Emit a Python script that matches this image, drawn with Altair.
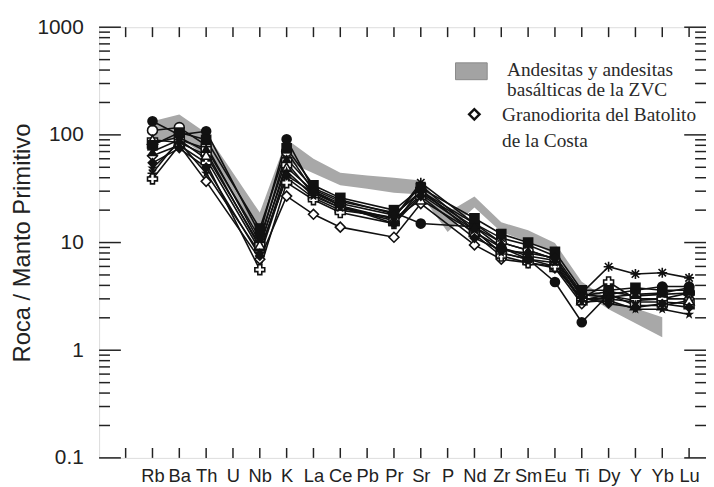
import altair as alt
import pandas as pd

# ---------------- data ----------------
elements = ["Rb", "Ba", "Th", "U", "Nb", "K", "La", "Ce", "Pb", "Pr", "Sr",
            "P", "Nd", "Zr", "Sm", "Eu", "Ti", "Dy", "Y", "Yb", "Lu"]

sample_elements = ["Rb", "Ba", "Th", "Nb", "K", "La", "Ce", "Pr", "Sr", "Nd",
                   "Zr", "Sm", "Eu", "Ti", "Dy", "Y", "Yb", "Lu"]

s_filled_circle = [134, 100, 108, 12.0, 91, 31, 24, 19, 15.0, 14.0, 9.0, 7.0, 4.3, 1.82, 3.3, 3.6, 3.9, 3.9]
s_open_circle   = [110, 117, 80, 10.0, 70, 30, 23, 18, 30, 15.0, 10.0, 8.5, 7.0, 3.2, 3.5, 3.2, 3.3, 3.4]
s_open_square   = [84, 95, 70, 9.0, 55, 28, 21, 16, 28, 13.0, 8.0, 7.0, 6.0, 3.0, 3.0, 2.8, 2.8, 2.7]
s_open_diamond  = [64, 80, 37, 7.0, 27, 18.3, 13.9, 11.2, 23, 9.5, 7.0, 6.5, 5.8, 2.7, 3.2, 2.9, 3.0, 3.0]
s_star          = [49, 85, 44, 8.0, 46, 27, 21, 17, 34, 13.0, 8.0, 7.0, 6.5, 2.8, 2.9, 2.4, 2.4, 2.15]
s_asterisk      = [44, 90, 60, 8.5, 40, 26, 20, 17, 36, 15.0, 11.0, 9.5, 7.5, 3.4, 5.96, 5.1, 5.25, 4.7]
s_open_cross    = [39, 80, 55, 5.6, 36, 25, 19, 15, 31, 12.0, 7.5, 6.5, 6.0, 3.0, 4.3, 3.0, 3.0, 3.4]
s_filled_square = [80, 105, 90, 13.5, 75, 34, 26, 20, 32, 16.8, 12.0, 10.0, 8.2, 3.6, 3.6, 3.8, 3.6, 3.6]
s_filled_tri    = [70, 90, 75, 11.0, 60, 32, 25, 18.5, 29, 14.0, 10.0, 8.5, 7.0, 3.3, 3.1, 3.3, 3.4, 3.8]
s_open_tri      = [90, 85, 65, 9.5, 50, 30, 22, 16.5, 25, 12.5, 9.0, 7.5, 6.8, 2.9, 3.3, 2.6, 2.6, 2.9]
s_filled_diam   = [55, 75, 50, 7.5, 42, 29, 22, 15, 27, 11.0, 8.5, 8.0, 7.2, 3.1, 2.7, 2.5, 2.7, 2.5]

band_elements = ["Rb", "Ba", "Th", "Nb", "K", "La", "Ce", "Pb", "Pr", "Sr", "P",
                 "Nd", "Zr", "Sm", "Eu", "Ti", "Dy", "Y", "Yb"]
band_upper = [134, 155, 104, 19, 91, 60, 44.5, 42, 40, 37.6, 19, 26.8, 15.4, 13, 9.9, 4.33, 2.96, 2.45, 2.02]
band_lower = [88, 93, 64, 11.7, 57, 44, 34, 31.6, 29, 28, 12.5, 21.2, 12.5, 10.1, 7.8, 3.5, 2.4, 1.78, 1.32]

y_major = [0.1, 1, 10, 100, 1000]
y_minor = [d * k for d in [0.1, 1, 10, 100] for k in range(2, 10)]
x_tick_positions = list(range(0, 22))

legend_band_lines = ["Andesitas y andesitas", "basálticas de la ZVC"]
legend_gd_lines = ["Granodiorita del Batolito", "de la Costa"]

# ---------------- tables ----------------
STAR = ("M0,-1L0.235,-0.324L0.951,-0.309L0.380,0.124L0.588,0.809L0,0.4"
        "L-0.588,0.809L-0.380,0.124L-0.951,-0.309L-0.235,-0.324Z")
ASTER = "M-1,0L1,0M0,-1L0,1M-0.75,-0.75L0.75,0.75M-0.75,0.75L0.75,-0.75"

samples = [
    ("S1", s_filled_circle, "circle", True),
    ("S2", s_open_circle, "circle", False),
    ("S3", s_open_square, "square", False),
    ("S4", s_open_diamond, "diamond", False),
    ("S5", s_star, STAR, True),
    ("S6", s_asterisk, ASTER, False),
    ("S7", s_open_cross, "cross", False),
    ("S8", s_filled_square, "square", True),
    ("S9", s_filled_tri, "triangle-up", True),
    ("S10", s_open_tri, "triangle-up", False),
    ("S11", s_filled_diam, "diamond", True),
]

pos = {e: i + 1 for i, e in enumerate(elements)}
rows = []
for name, vals, shp, filled in samples:
    for e, v in zip(sample_elements, vals):
        rows.append({"sample": name, "pos": pos[e], "val": v, "filled": filled})
df = pd.DataFrame(rows)

band_df = pd.DataFrame({
    "pos": [pos[e] for e in band_elements],
    "upper": band_upper,
    "lower": band_lower,
})

W, H = 613, 435
xs = alt.Scale(domain=[-0.99, 21.63], nice=False, zero=False)
ys = alt.Scale(type="log", domain=[0.1, 1000], nice=False)
shape_scale = alt.Scale(domain=[s[0] for s in samples], range=[s[2] for s in samples])

label_js = "[" + ",".join("'%s'" % e for e in elements) + "]"

INK = "#222222"

XAXIS = alt.Axis(values=list(range(1, 22)), labelExpr=label_js + "[datum.value-1]",
                 ticks=False, domain=False, grid=False, labelFontSize=18.5,
                 labelFont="Liberation Sans", labelColor=INK, labelPadding=9,
                 labelOverlap=False, labelFlush=False, labelBound=False, title=None)
YAXIS = alt.Axis(values=y_major, format="~g", ticks=False, domain=False, grid=False,
                 labelFontSize=21, labelFont="Liberation Sans", labelColor=INK,
                 labelPadding=16, labelOverlap=False, labelFlush=False,
                 title="Roca / Manto Primitivo", titleFontSize=24,
                 titleFont="Liberation Sans", titleFontWeight="normal",
                 titleColor=INK, titlePadding=3)


def X(field):
    return alt.X(field, scale=xs, axis=XAXIS)


def Y(field):
    return alt.Y(field, scale=ys, axis=YAXIS)


band = alt.Chart(band_df).mark_area(color="#a8a8a8", opacity=1).encode(
    x=X("pos:Q"), y=Y("upper:Q"), y2="lower:Q",
)

major_df = pd.DataFrame({"v": y_major})
minor_df = pd.DataFrame({"v": y_minor})
xt_df = pd.DataFrame({"p": x_tick_positions})


def yticks(data, x0, x1):
    return alt.Chart(data).mark_rule(color=INK, strokeWidth=1.5).encode(
        y=Y("v:Q"), x=alt.value(x0), x2=alt.value(x1))


ticks = [
    yticks(major_df, 0, 22), yticks(minor_df, 0, 11),
    yticks(major_df, W - 22, W), yticks(minor_df, W - 11, W),
    alt.Chart(xt_df).mark_rule(color=INK, strokeWidth=1.5).encode(
        x=X("p:Q"), y=alt.value(H), y2=alt.value(H - 10)),
    alt.Chart(xt_df).mark_rule(color=INK, strokeWidth=1.5).encode(
        x=X("p:Q"), y=alt.value(0), y2=alt.value(10)),
]

lines = alt.Chart(df).mark_line(color="#111111", strokeWidth=1.6).encode(
    x=X("pos:Q"), y=Y("val:Q"), detail="sample:N",
)

open_pts = alt.Chart(df).transform_filter("!datum.filled").mark_point(
    filled=False, fill="white", stroke="#111111", strokeWidth=1.6, opacity=1, size=100
).encode(
    x=X("pos:Q"), y=Y("val:Q"),
    shape=alt.Shape("sample:N", scale=shape_scale, legend=None),
)

filled_pts = alt.Chart(df).transform_filter("datum.filled").mark_point(
    filled=True, color="#111111", opacity=1, size=115
).encode(
    x=X("pos:Q"), y=Y("val:Q"),
    shape=alt.Shape("sample:N", scale=shape_scale, legend=None),
)

one = pd.DataFrame({"a": [0]})
leg_rect = alt.Chart(one).mark_rect(fill="#a3a3a3", stroke="#8a8a8a", strokeWidth=1).encode(
    x=alt.value(360), x2=alt.value(392), y=alt.value(36), y2=alt.value(53))
leg_diam = alt.Chart(one).mark_point(shape="diamond", filled=False, stroke="#111111",
                                    strokeWidth=2.5, size=110, opacity=1).encode(
    x=alt.value(379), y=alt.value(88))


def ltext(t, x, y):
    return alt.Chart(pd.DataFrame({"t": [t]})).mark_text(
        align="left", baseline="middle", font="Liberation Serif", fontSize=19.5, color="#2a2a2a"
    ).encode(text="t:N", x=alt.value(x), y=alt.value(y))


legend_texts = [
    ltext(legend_band_lines[0], 412, 43),
    ltext(legend_band_lines[1], 412, 63),
    ltext(legend_gd_lines[0], 407, 89),
    ltext(legend_gd_lines[1], 407, 115),
]

chart = alt.layer(band, *ticks, lines, open_pts, filled_pts, leg_rect, leg_diam, *legend_texts).properties(
    width=W, height=H,
    autosize=alt.AutoSizeParams(type="none"),
    padding={"left": 92, "top": 17, "right": 0, "bottom": 27},
).configure_view(stroke=INK, strokeWidth=2).configure(background="white")

chart.save("out.html", embed_options={"renderer": "svg", "actions": False})
